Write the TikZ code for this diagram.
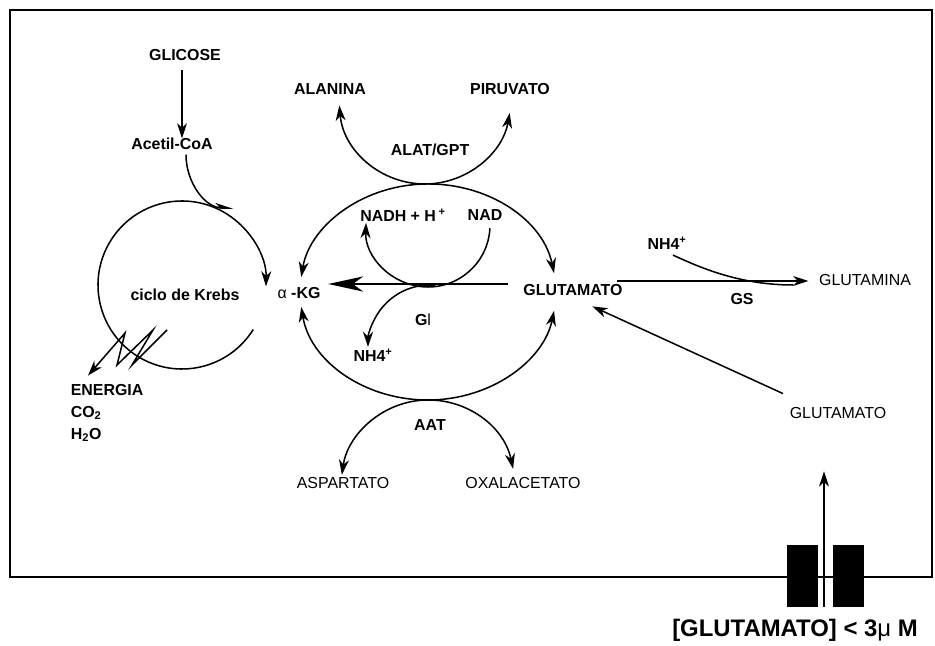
\documentclass[tikz,border=0pt]{standalone}
\usepackage{fontspec}
\setmainfont{Liberation Sans}
\usetikzlibrary{arrows.meta,positioning,calc}

\tikzset{
  lbl/.style={inner sep=0pt, font=\fontsize{13.6}{16}\selectfont\bfseries},
  plain/.style={inner sep=0pt, font=\fontsize{13.6}{16}\selectfont},
  arr/.style={-{Stealth[length=13pt,width=8.5pt,inset=4pt]}},
  darr/.style={{Stealth[length=13pt,width=8.5pt,inset=4pt]}-{Stealth[length=13pt,width=8.5pt,inset=4pt]}},
  bigarr/.style={-{Stealth[length=30pt,width=13pt,inset=9pt]}},
}

\begin{document}
\begin{tikzpicture}[x=0.03cm, y=0.03cm, line width=1.3pt]
  \useasboundingbox (0,0) rectangle (935,645);
  \draw[line width=1.6pt] (10,68) rectangle (932,635);

  % left side
  \node[lbl] (glicose) at (185,590) {GLICOSE};
  \node[lbl] (acetil) at (172,501) {Acetil-CoA};
  \node[lbl] (krebs) at (185,350) {ciclo de Krebs};
  \node[lbl, anchor=west] (energia) at (70,255) {ENERGIA};
  \node[lbl, anchor=west] (co2) at (70,232) {CO\textsubscript{2}};
  \node[lbl, anchor=west] (h2o) at (70,210) {H\textsubscript{2}O};
  \node[lbl] (akg) at (299,352) {{\mdseries α} -KG};

  % transaminases and GDH
  \node[lbl] (alanina) at (330,556) {ALANINA};
  \node[lbl] (piruvato) at (510,556) {PIRUVATO};
  \node[lbl] (alat) at (430,495) {ALAT/GPT};
  \node[lbl] (nadh) at (403,430) {NADH + H\,\textsuperscript{+}};
  \node[lbl] (nad) at (485,430) {NAD};
  \node[lbl] (glu) at (573,355) {GLUTAMATO};
  \node[lbl] (gdh) at (423,325) {G{\mdseries l}};
  \node[lbl] (nhq) at (373,290) {NH4\textsuperscript{+}};
  \node[lbl] (aat) at (430,220) {AAT};
  \node[plain] (asp) at (343,162) {ASPARTATO};
  \node[plain] (oxa) at (523,162) {OXALACETATO};

  % right side
  \node[lbl] (nhr) at (667,402) {NH4\textsuperscript{+}};
  \node[lbl] (gs) at (742,346) {GS};
  \node[plain] (gln) at (865,365) {GLUTAMINA};
  \node[plain] (gluext) at (838,232) {GLUTAMATO};
  \node[font=\fontsize{20.4}{24}\selectfont\bfseries, inner sep=0pt] (conc) at (795,15) {[GLUTAMATO] < 3{\mdseries μ} M};

  % coordinates for the cycles
  \coordinate (kc) at (182,360);
  \coordinate (ec) at (428,353);
  \coordinate (alc) at (425,547);
  \coordinate (nc) at (428,420);
  \coordinate (gc) at (430,298);
  \coordinate (ac) at (428,158);

  \draw[arr] ($(glicose.south)+(-3,-9)$) -- ($(acetil.north)+(10,-1)$);
  \draw[-{Stealth[length=13pt,width=8.5pt,inset=4pt,harpoon]}] ($(acetil.south)+(14,-4)$)
    .. controls +(0,-28) and +(-28,0) .. ($(kc)+(51,77)$);
  \draw[arr] ($(kc)+(-32:84)$) arc[start angle=-32, end angle=-361, radius=84];
  \draw[arr] (167,315) -- (132,280) -- (153,315) -- (117,280) -- (125,312) -- ($(energia.north west)+(18,8)$);

  % central ellipse
  \draw[darr] ($(ec)+(10:128 and 108)$) arc[start angle=10, end angle=172, x radius=128, y radius=108];
  \draw[darr] ($(ec)+(188:128 and 108)$) arc[start angle=188, end angle=350, x radius=128, y radius=108];
  \draw[darr] ($(alc)+(185:86)$) arc[start angle=185, end angle=350, radius=86];
  \draw[arr] ($(nc)+(-3:62)$) arc[start angle=-3, end angle=-182, radius=62];
  \draw[arr] ($(gc)+(85:62)$) arc[start angle=85, end angle=180, radius=62];
  \draw[darr] ($(ac)+(12:87)$) arc[start angle=12, end angle=172, radius=87];
  \draw[bigarr] ($(glu.west)+(-15,6)$) -- ($(akg.east)+(7,9)$);

  % glutamine synthetase
  \draw[arr] ($(glu.east)+(-6,9)$) -- ($(gln.west)+(-10,-1)$);
  \draw ($(nhr.south)+(6,-5)$) .. controls +(32,-15) and +(-50,0) .. ($(gln.west)+(-25,-5)$);
  \draw[arr] ($(gluext.north west)+(-6,13)$) -- ($(glu.south east)+(-31,-10)$);

  % membrane
  \fill (787,38) rectangle (818,100);
  \fill (833,38) rectangle (864,100);
  \draw[arr] (824,38) -- ($(gluext.south)+(-14,-52)$);
\end{tikzpicture}
\end{document}
